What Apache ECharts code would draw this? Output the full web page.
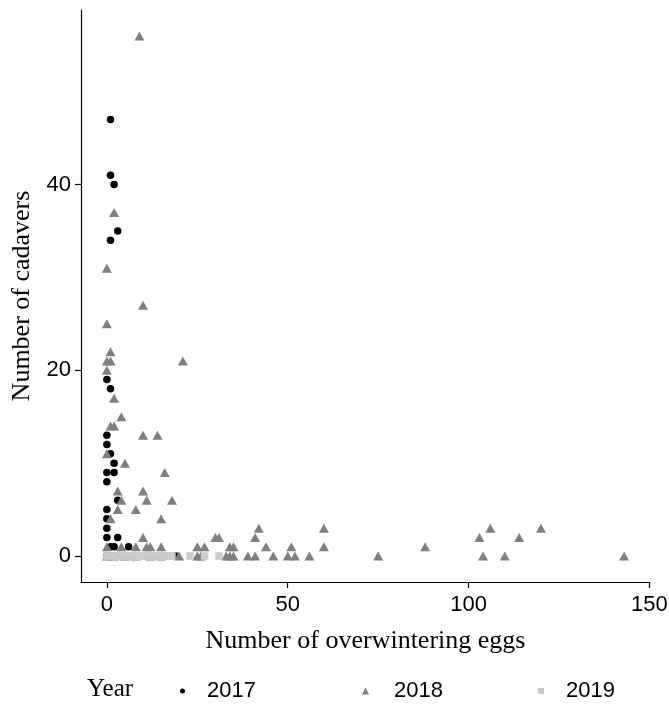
<!DOCTYPE html>
<html>
<head>
<meta charset="utf-8">
<script src="https://cdn.jsdelivr.net/npm/echarts@6/dist/echarts.min.js"></script>
<style>
  html, body { margin: 0; padding: 0; background: #fff; }
  #main { width: 669px; height: 704px; }
</style>
</head>
<body>
<div id="main"></div>
<script>
// [eggs, cadavers] per year
var data2017 = [
  [1, 47], [1, 41], [2, 40], [3, 35], [1, 34], [0, 19], [1, 18], [0, 13], [0, 12],
  [1, 11], [2, 10], [0, 9], [2, 9], [0, 8], [3, 6], [0, 5], [0, 4], [0, 3], [0, 2],
  [3, 2], [1, 1], [2, 1], [6, 1], [0, 0], [1, 0], [2, 0], [19, 0]
]
var data2018 = [
  [9, 56], [2, 37], [0, 31], [10, 27], [0, 25], [1, 22], [0, 21], [1, 21], [21, 21],
  [0, 20], [2, 17], [4, 15], [1, 14], [2, 14], [10, 13], [14, 13], [0, 11], [5, 10],
  [16, 9], [3, 7], [10, 7], [4, 6], [11, 6], [18, 6], [3, 5], [8, 5], [1, 4], [15, 4],
  [42, 3], [60, 3], [106, 3], [120, 3],
  [10, 2], [30, 2], [31, 2], [41, 2], [103, 2], [114, 2],
  [0, 1], [4, 1], [8, 1], [11, 1], [12, 1], [15, 1], [25, 1], [27, 1], [34, 1], [35, 1],
  [44, 1], [51, 1], [60, 1], [88, 1],
  [0, 0], [2, 0], [5, 0], [8, 0], [12, 0], [15, 0], [20, 0], [25, 0], [26, 0], [33, 0],
  [34, 0], [35, 0], [39, 0], [41, 0], [46, 0], [50, 0], [52, 0], [56, 0], [75, 0],
  [104, 0], [110, 0], [143, 0]
]
var data2019 = [
  [0, 0], [1, 0], [2, 0], [3, 0], [4, 0], [5, 0], [6, 0], [7, 0], [8, 0], [9, 0],
  [10, 0], [11, 0], [12, 0], [13, 0], [14, 0], [15, 0], [16, 0], [17, 0], [18, 0],
  [23, 0], [27, 0], [31, 0]
]
var xTicks = [0, 50, 100, 150]
var yTicks = [0, 20, 40]

var serif = 'Liberation Serif'
var sans = 'Liberation Sans'

var myChart = echarts.init(document.getElementById('main'))

// one legend per year so each key sits where ggplot put it
function legendFor(name, icon, left, size, pad) {
  return {
    data: [{ name: name, icon: icon }],
    left: left,
    top: 680,
    padding: 0,
    orient: 'horizontal',
    itemWidth: size,
    itemHeight: size,
    selectedMode: false,
    textStyle: { fontFamily: sans, fontSize: 22, color: '#000', padding: [0, 0, 0, pad] }
  }
}

var option = {
  animation: false,
  backgroundColor: '#fff',
  grid: { left: 81, right: 19, top: 10, bottom: 122, outerBoundsMode: 'none' },
  graphic: [{
    type: 'text',
    left: 87,
    top: 677,
    style: { text: 'Year', fontFamily: serif, fontSize: 25, fill: '#000' }
  }],
  legend: [
    legendFor('2017', 'circle', 180, 5, 17),
    legendFor('2018', 'triangle', 362, 7, 20),
    legendFor('2019', 'rect', 538, 6, 17)
  ],
  xAxis: {
    type: 'value',
    min: -7.15,
    max: 150.15,
    name: 'Number of overwintering eggs',
    nameLocation: 'middle',
    nameGap: 46,
    nameTextStyle: { fontFamily: serif, fontSize: 26, color: '#000' },
    axisLine: { show: true, onZero: false, lineStyle: { color: '#000', width: 1.2 } },
    axisTick: { show: true, length: 6, customValues: xTicks, lineStyle: { color: '#000', width: 1.2 } },
    axisLabel: { customValues: xTicks, margin: 12, fontFamily: sans, fontSize: 22, color: '#000' },
    splitLine: { show: false }
  },
  yAxis: {
    type: 'value',
    min: -2.8,
    max: 58.8,
    name: 'Number of cadavers',
    nameLocation: 'middle',
    nameGap: 41,
    nameTextStyle: { fontFamily: serif, fontSize: 26, color: '#000' },
    axisLine: { show: true, onZero: false, lineStyle: { color: '#000', width: 1.2 } },
    axisTick: { show: true, length: 6, customValues: yTicks, lineStyle: { color: '#000', width: 1.2 } },
    axisLabel: { customValues: yTicks, margin: 10, fontFamily: sans, fontSize: 22, color: '#000' },
    splitLine: { show: false }
  },
  series: [
    {
      name: '2017',
      type: 'scatter',
      symbol: 'circle',
      symbolSize: 7.5,
      itemStyle: { color: '#000', opacity: 1 },
      data: data2017
    },
    {
      name: '2018',
      type: 'scatter',
      symbol: 'triangle',
      symbolSize: [10, 9],
      itemStyle: { color: '#7f7f7f', opacity: 1 },
      data: data2018
    },
    {
      name: '2019',
      type: 'scatter',
      symbol: 'rect',
      symbolSize: 7.5,
      itemStyle: { color: '#cccccc', opacity: 1 },
      data: data2019
    }
  ]
}

myChart.setOption(option)
</script>
</body>
</html>
